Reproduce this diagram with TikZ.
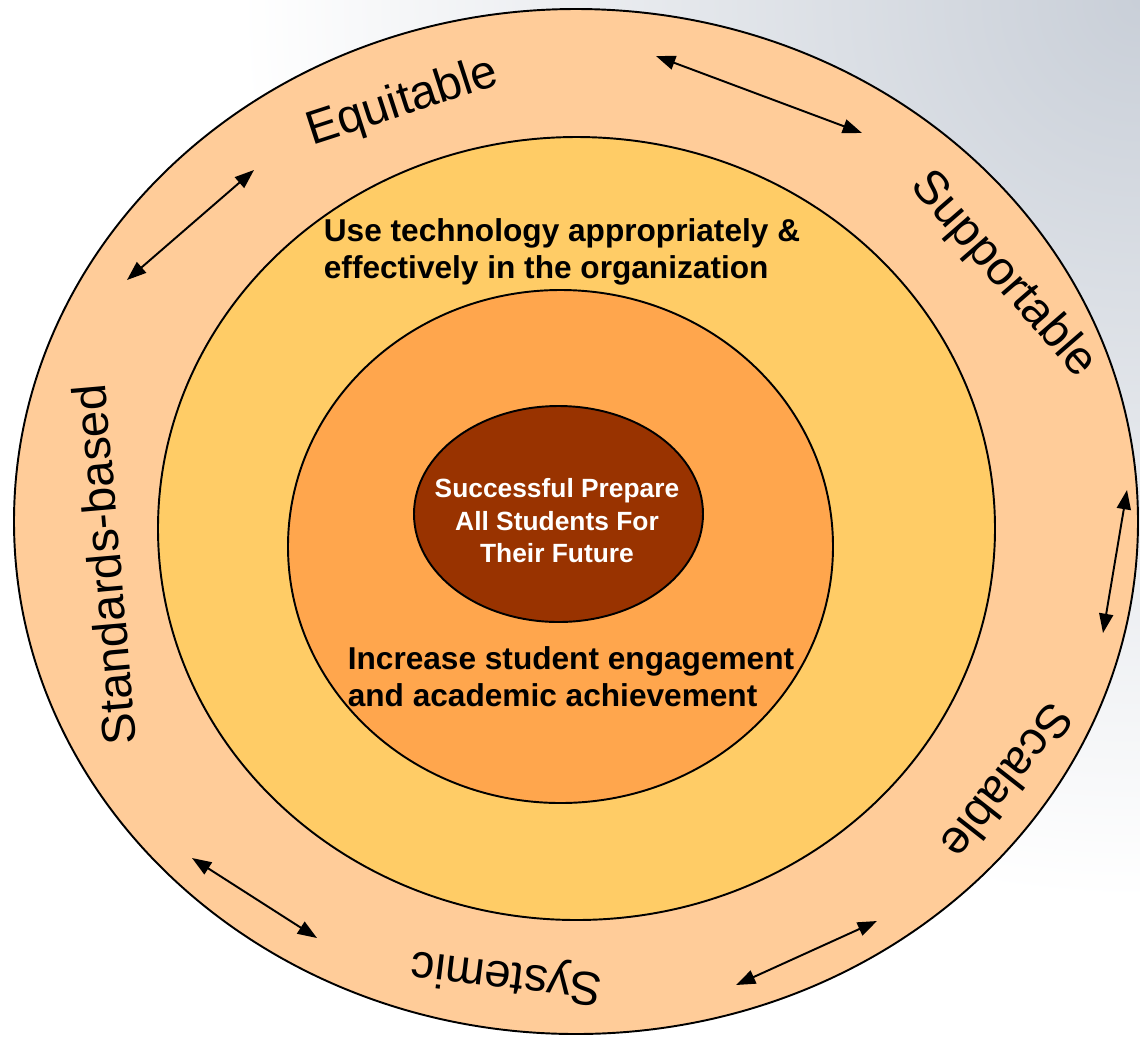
\documentclass[tikz,border=0pt]{standalone}
\usepackage{fontspec}
\setmainfont{Liberation Sans}
\usepackage{tikz}
\usetikzlibrary{arrows.meta, shadings}

\definecolor{peach}{HTML}{FFCC99}
\definecolor{sun}{HTML}{FFCC66}
\definecolor{tangerine}{HTML}{FFA64D}
\definecolor{rust}{HTML}{993300}
\definecolor{haze}{HTML}{C9CFD8}

\begin{document}
\begin{tikzpicture}[
    x=0.02cm, y=-0.02cm,
    ring/.style={draw=black, line width=1.1pt},
    ring label/.style={font=\fontsize{27}{32}\selectfont, inner sep=0pt},
    goal/.style={font=\fontsize{18}{21}\selectfont\bfseries, align=left, inner sep=0pt},
    >={Triangle[length=11pt, width=8pt]},
    both arrow/.style={line width=1.1pt, <->}
]
    \useasboundingbox (0,0) rectangle (1140,1036);
    \shade[inner color=haze, outer color=white] (1140,0) circle [radius=900];

    % rings, outside in
    \draw[ring, fill=peach] (576,521.5) ellipse [x radius=562, y radius=512.5];
    \draw[ring, fill=sun] (576.5,528.5) ellipse [x radius=418.5, y radius=391.5];
    \draw[ring, fill=tangerine] (560.5,546.5) ellipse [x radius=272.5, y radius=256.5];
    \draw[ring, fill=rust] (558.5,514) ellipse [x radius=144.5, y radius=108];

    \node[goal] (use) at (562,252) {Use technology appropriately \&\\effectively in the organization};
    \node[goal] (increase) at (571,677) {Increase student engagement\\and academic achievement};
    \node[goal, align=center, text=white, font=\fontsize{15}{18.5}\selectfont\bfseries] (success) at (557,521) {Successful Prepare\\All Students For\\Their Future};

    \foreach \label/\x/\y/\rot [count=\i from 0] in {Equitable/403/103/18, Supportable/1003/275/-49, Scalable/1008/782/232, Systemic/507/975/173, Standards-based/104/565/95} {
        \node[ring label, rotate=\rot] (l\i) at (\x,\y) {\label};
    }

    \foreach \sx/\sy/\ex/\ey [count=\i from 0] in {656/56/862/133, 1127/490/1103/633, 877/921/736/985, 317/938/192/858, 127/280/254/170} {
        \coordinate (a\i) at (\sx,\sy);
        \coordinate (b\i) at (\ex,\ey);
        \draw[both arrow] (a\i) -- (b\i);
    }
\end{tikzpicture}
\end{document}
